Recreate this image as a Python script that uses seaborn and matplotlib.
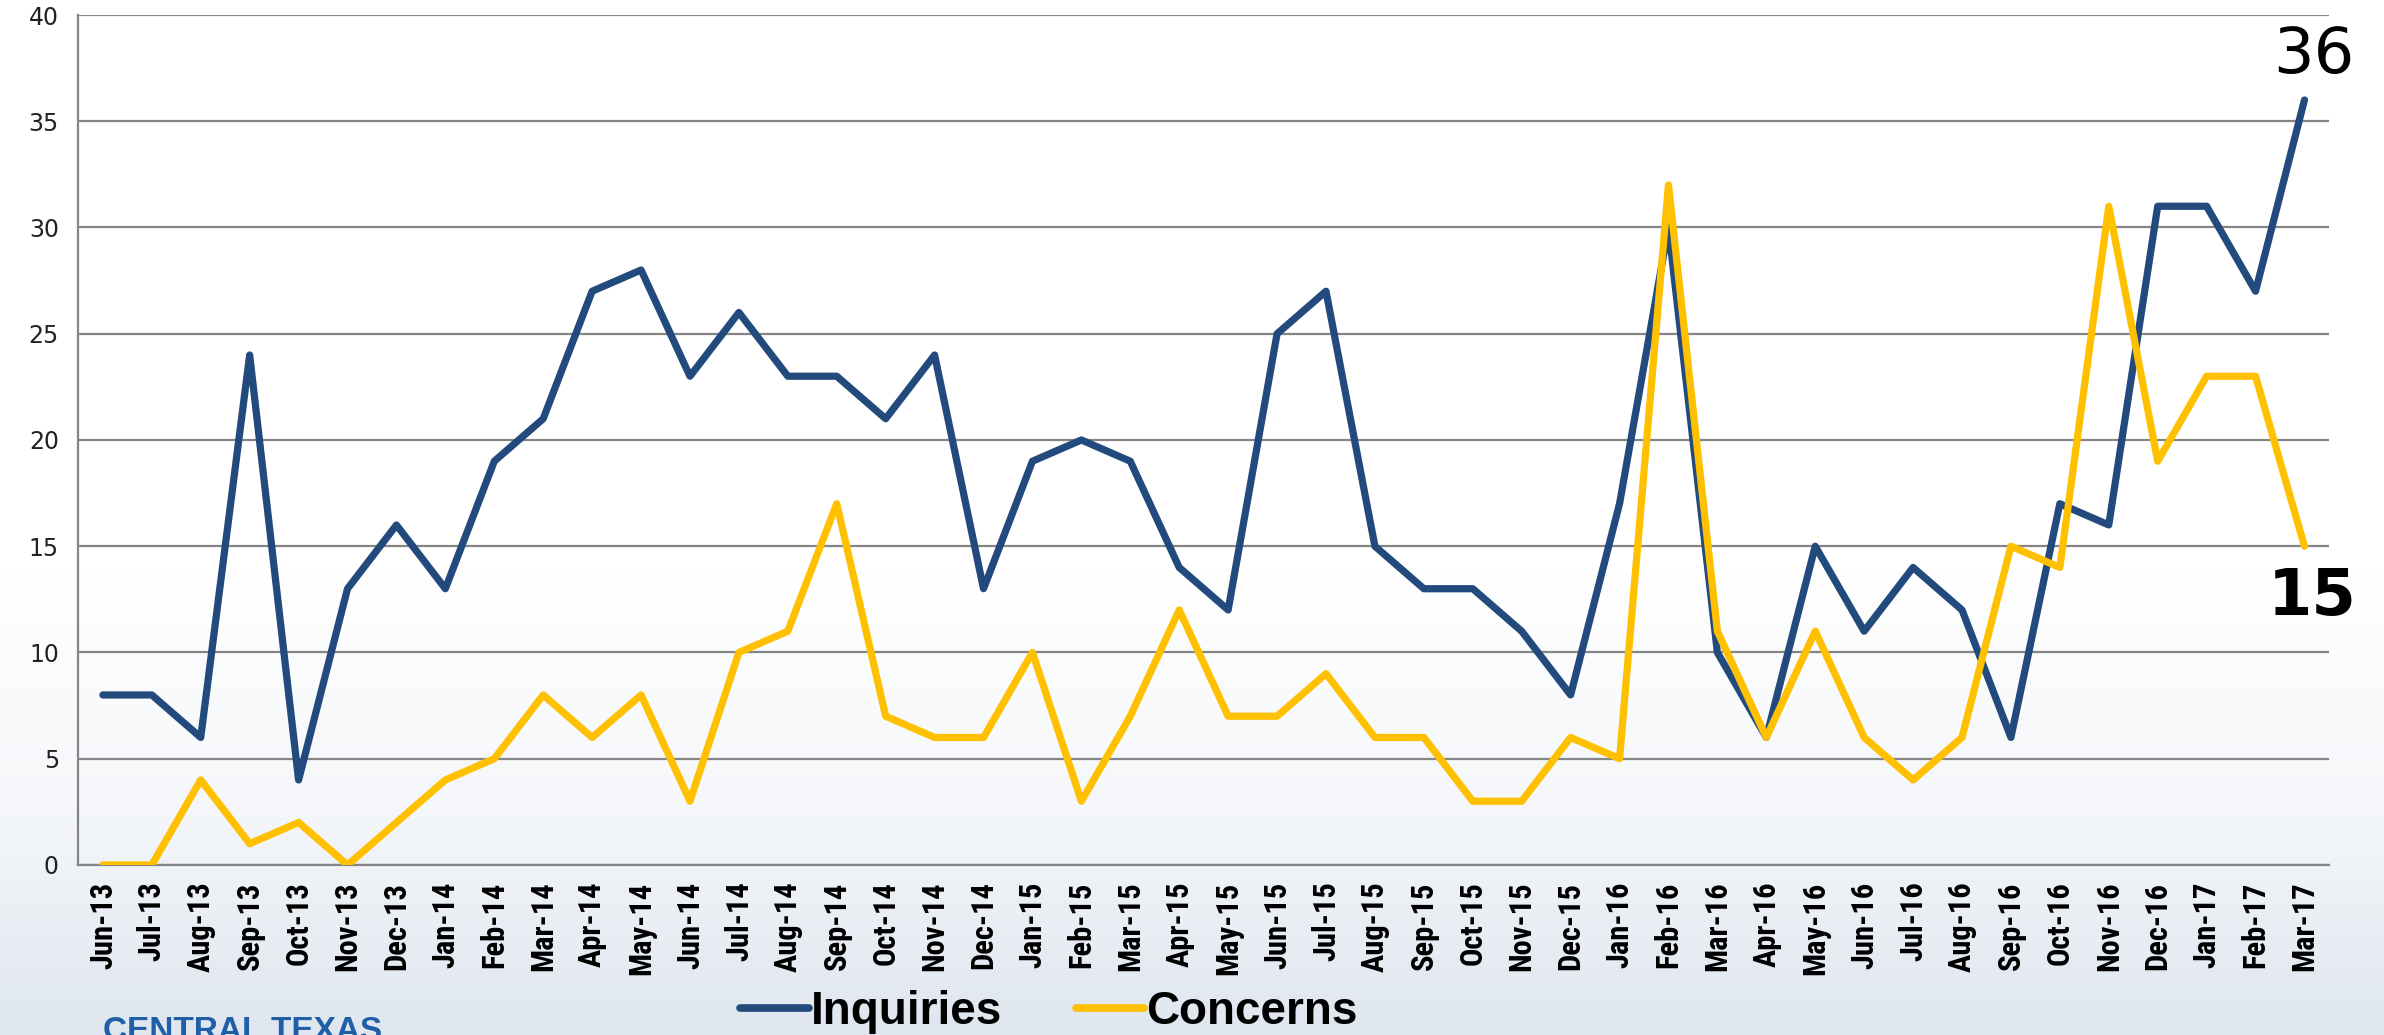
import numpy as np
import pandas as pd
import matplotlib
matplotlib.use("Agg")
import matplotlib.pyplot as plt
from matplotlib.colors import LinearSegmentedColormap
import seaborn as sns

# month labels, Jun-13 .. Mar-17
months = ["Jun-13", "Jul-13", "Aug-13", "Sep-13", "Oct-13", "Nov-13", "Dec-13",
          "Jan-14", "Feb-14", "Mar-14", "Apr-14", "May-14", "Jun-14", "Jul-14",
          "Aug-14", "Sep-14", "Oct-14", "Nov-14", "Dec-14",
          "Jan-15", "Feb-15", "Mar-15", "Apr-15", "May-15", "Jun-15", "Jul-15",
          "Aug-15", "Sep-15", "Oct-15", "Nov-15", "Dec-15",
          "Jan-16", "Feb-16", "Mar-16", "Apr-16", "May-16", "Jun-16", "Jul-16",
          "Aug-16", "Sep-16", "Oct-16", "Nov-16", "Dec-16",
          "Jan-17", "Feb-17", "Mar-17"]

inquiries = [8, 8, 6, 24, 4, 13, 16,
             13, 19, 21, 27, 28, 23, 26, 23, 23, 21, 24, 13,
             19, 20, 19, 14, 12, 25, 27, 15, 13, 13, 11, 8,
             17, 30, 10, 6, 15, 11, 14, 12, 6, 17, 16, 31,
             31, 27, 36]

concerns = [0, 0, 4, 1, 2, 0, 2,
            4, 5, 8, 6, 8, 3, 10, 11, 17, 7, 6, 6,
            10, 3, 7, 12, 7, 7, 9, 6, 6, 3, 3, 6,
            5, 32, 11, 6, 11, 6, 4, 6, 15, 14, 31, 19,
            23, 23, 15]

series_names = ["Inquiries", "Concerns"]
colors = ["#224a7d", "#ffc000"]

idx = np.arange(len(months))
df = pd.DataFrame({"idx": np.concatenate([idx, idx]),
                   "value": inquiries + concerns,
                   "series": ["Inquiries"] * len(idx) + ["Concerns"] * len(idx)})

sns.set_style("white")
plt.rcParams['font.family'] = ['DejaVu Sans']

fig = plt.figure(figsize=(23.84, 10.35), dpi=100)

# soft background gradient (white to pale blue-grey at the bottom)
bg = fig.add_axes([0, 0, 1, 1], zorder=-5)
grad = np.linspace(0, 1, 256).reshape(-1, 1)
cmap = LinearSegmentedColormap.from_list("bg", [(0, "#dfe6ef"), (0.22, "#f5f7fa"), (0.45, "#ffffff"), (1, "#ffffff")])
bg.imshow(grad, aspect="auto", cmap=cmap, origin="lower", extent=[0, 1, 0, 1])
bg.set_axis_off()

ax = fig.add_axes([0.0329, 0.1643, 0.944, 0.8212])
ax.patch.set_alpha(0)

sns.lineplot(data=df, x="idx", y="value", hue="series", hue_order=series_names,
             palette=colors, linewidth=5.2, ax=ax, legend=False, zorder=3)

ax.set_xlim(-0.5, len(months) - 0.5)
ax.set_ylim(0, 40)
ax.set_yticks(range(0, 41, 5))
ax.set_yticklabels([str(v) for v in range(0, 41, 5)], fontsize=17, color="#222222")
ax.grid(axis="y", color="#858585", linewidth=1.6)
ax.set_axisbelow(True)

ax.set_xticks(idx)
ax.set_xticklabels(months, rotation=90, fontsize=22, fontweight="bold",
                   family=["Roboto Condensed", "DejaVu Sans"], color="black")
ax.set_xticks(np.arange(-0.5, len(months), 1), minor=True)
ax.tick_params(axis="x", which="major", length=0, pad=12)
ax.tick_params(axis="x", which="minor", length=8, width=1.6, color="#858585", direction="out")
ax.tick_params(axis="y", length=8, width=1.6, color="#858585", direction="out", pad=6)

for s in ["top", "right"]:
    ax.spines[s].set_visible(False)
for s in ["left", "bottom"]:
    ax.spines[s].set_color("#858585")
    ax.spines[s].set_linewidth(1.6)

ax.set_xlabel("")
ax.set_ylabel("")

# end labels
ax.text(45.2, 38.1, str(inquiries[-1]), fontsize=46, ha="center", va="center", color="black")
ax.text(45.15, 12.6, str(concerns[-1]), fontsize=46, fontweight="bold", ha="center", va="center", color="black")

# legend
handles = [plt.Line2D([], [], color=c, linewidth=5.5) for c in colors]
leg = fig.legend(handles, series_names, loc="center", bbox_to_anchor=(0.44, 0.022), ncol=2,
                 frameon=False, handlelength=1.5, handletextpad=0.05, columnspacing=1.6,
                 prop={"size": 33, "weight": "bold", "family": "Liberation Sans"})
for t in leg.get_texts():
    t.set_color("black")
    t.set_fontweight("bold")

fig.text(0.043, -0.005, "CENTRAL TEXAS", fontsize=24, color="#1f5fa8",
         fontweight="bold", va="baseline", ha="left", fontfamily="Liberation Sans")

fig.savefig("out.png", dpi=100)
